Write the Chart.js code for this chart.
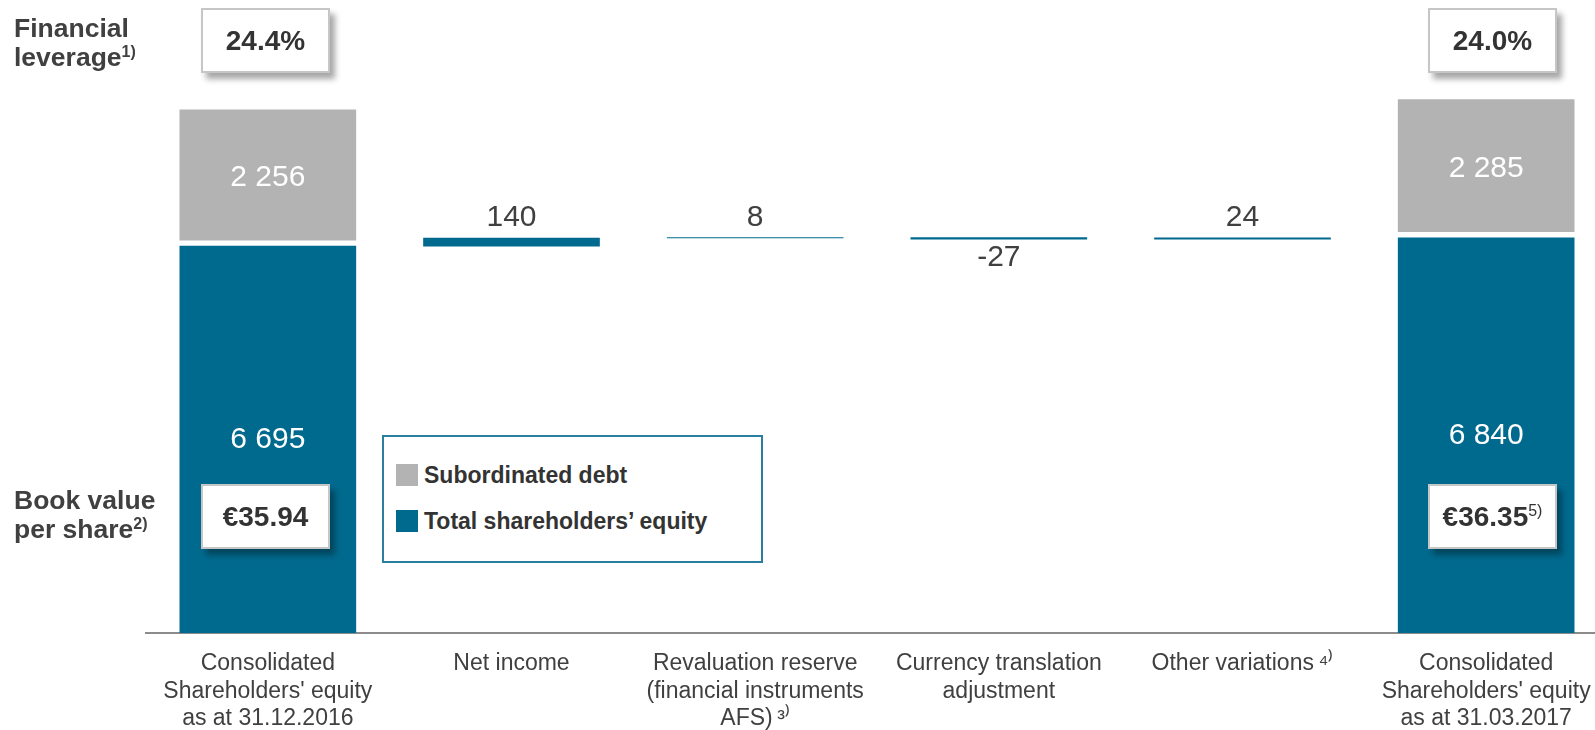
<!DOCTYPE html>
<html>
<head>
<meta charset="utf-8">
<script src="https://cdn.jsdelivr.net/npm/chart.js@4.4.1/dist/chart.umd.min.js"></script>
<style>
  body { margin: 0; width: 1595px; height: 730px; overflow: hidden; background: #fff;
         font-family: "Liberation Sans", Arial, sans-serif; color: #404040; }
  #wrap { position: absolute; left: 0; top: 0; width: 1612px; height: 730px; }
  .side { position: absolute; left: 14px; font-weight: bold; font-size: 26.5px; line-height: 29px; }
  .side sup { font-size: 16px; vertical-align: 9px; line-height: 0; }
  .box { position: absolute; box-sizing: border-box; width: 129px; height: 65px; background: #fff;
         border: 2px solid #c6c6c6; box-shadow: 5px 6px 6px rgba(0,0,0,0.35);
         font-weight: bold; font-size: 28px; line-height: 61px; text-align: center; color: #333; }
  .box sup { font-size: 16px; font-weight: normal; vertical-align: 10px; line-height: 0; }
  #legend { position: absolute; left: 382px; top: 435px; width: 381px; height: 128px; box-sizing: border-box;
            border: 2px solid #2a7f9e; background: #fff; }
  .item { position: absolute; left: 12px; font-weight: bold; font-size: 23px; line-height: 26px; color: #333; }
  .item span { display: inline-block; width: 22px; height: 22px; vertical-align: -3px; margin-right: 6px; }
</style>
</head>
<body>
<div id="wrap"><canvas id="chart"></canvas></div>

<div class="side" style="top:14px">Financial<br>leverage<sup>1)</sup></div>
<div class="side" style="top:486px">Book value<br>per share<sup>2)</sup></div>

<div class="box" id="lev0" style="left:201px; top:8px"></div>
<div class="box" id="lev1" style="left:1428px; top:8px"></div>
<div class="box" id="bv0" style="left:201px; top:484px"></div>
<div class="box" id="bv1" style="left:1428px; top:484px"></div>

<div id="legend">
  <div class="item" style="top:25px"><span style="background:#b3b3b3"></span>Subordinated debt</div>
  <div class="item" style="top:71px"><span style="background:#006a8e"></span>Total shareholders’ equity</div>
</div>

<script>
const categories = [
  ['Consolidated', "Shareholders' equity", 'as at 31.12.2016'],
  ['Net income'],
  ['Revaluation reserve', '(financial instruments', 'AFS)\u2009³⁾'],
  ['Currency translation', 'adjustment'],
  ['Other variations\u2009⁴⁾'],
  ['Consolidated', "Shareholders' equity", 'as at 31.03.2017']
];
const equityOpen = 6695;
const equityClose = 6840;
const changes = [140, 8, -27, 24];
const subDebt = [2256, 2285];
const leverage = ['24.4%', '24.0%'];
const bookValue = ['€35.94', '€36.35'];
const bookValueNote = ['', '5)'];

const BLUE = '#006a8e';
const GREY = '#b3b3b3';
const DEBT_GAP = 6; // white gap (px) between equity and debt blocks

document.getElementById('lev0').textContent = leverage[0];
document.getElementById('lev1').textContent = leverage[1];
document.getElementById('bv0').textContent = bookValue[0];
document.getElementById('bv1').innerHTML = bookValue[1] + '<sup>' + bookValueNote[1] + '</sup>';

// waterfall: each change floats from the running total
const steps = [];
let running = equityOpen;
changes.forEach(c => { steps.push([running, running + c]); running += c; });

const equityData = [equityOpen, null, null, null, null, equityClose];
const debtData = [[equityOpen, equityOpen + subDebt[0]], null, null, null, null,
                  [equityClose, equityClose + subDebt[1]]];
const stepData = [null, ...steps, null];

function fmt(v) {
  return String(v).replace(/\B(?=(\d{3})+(?!\d))/g, ' ');
}

// lift the debt blocks a few pixels so a white gap shows under them
const liftDebt = {
  id: 'liftDebt',
  beforeDatasetDraw(chart, args) {
    if (chart.data.datasets[args.index].kind !== 'debt') return;
    chart.ctx.save();
    chart.ctx.translate(0, -DEBT_GAP);
  },
  afterDatasetDraw(chart, args) {
    if (chart.data.datasets[args.index].kind !== 'debt') return;
    chart.ctx.restore();
  }
};

const valueLabels = {
  id: 'valueLabels',
  afterDatasetsDraw(chart) {
    const ctx = chart.ctx;
    ctx.save();
    ctx.textAlign = 'center';
    ctx.font = '30px "Liberation Sans", Arial, sans-serif';
    chart.data.datasets.forEach((ds, i) => {
      const meta = chart.getDatasetMeta(i);
      meta.data.forEach((bar, j) => {
        const raw = ds.data[j];
        if (raw === null) return;
        if (ds.kind === 'step') {
          const d = raw[1] - raw[0];
          const top = Math.min(bar.y, bar.base);
          const bottom = Math.max(bar.y, bar.base);
          ctx.fillStyle = '#404040';
          if (d >= 0) {
            ctx.textBaseline = 'alphabetic';
            ctx.fillText(fmt(d), bar.x, top - 12);
          } else {
            ctx.textBaseline = 'top';
            ctx.fillText(fmt(d), bar.x, bottom + 4);
          }
        } else {
          const v = Array.isArray(raw) ? raw[1] - raw[0] : raw;
          const shift = ds.kind === 'debt' ? DEBT_GAP / 2 : 0;
          ctx.fillStyle = '#ffffff';
          ctx.textBaseline = 'middle';
          ctx.fillText(fmt(v), bar.x, (bar.y + bar.base) / 2 - shift);
        }
      });
    });
    ctx.restore();
  }
};

new Chart(document.getElementById('chart'), {
  type: 'bar',
  data: {
    labels: categories,
    datasets: [
      { kind: 'equity', data: equityData, backgroundColor: BLUE },
      { kind: 'debt', data: debtData, backgroundColor: GREY },
      { kind: 'step', data: stepData, backgroundColor: BLUE }
    ]
  },
  options: {
    responsive: true,
    maintainAspectRatio: false,
    animation: false,
    layout: { padding: { left: 146, right: 4, top: 84, bottom: 0 } },
    datasets: { bar: { grouped: false, barThickness: 176 } },
    plugins: { legend: { display: false }, tooltip: { enabled: false } },
    scales: {
      x: {
        grid: { display: false, drawTicks: false },
        border: { display: true, color: '#8c8c8c', width: 2 },
        ticks: {
          autoSkip: false, maxRotation: 0, padding: 17, color: '#404040',
          font: { family: '"Liberation Sans", Arial, sans-serif', size: 23, lineHeight: 1.2 }
        },
        afterFit(scale) { scale.height = 97; }
      },
      y: { display: false, min: 0, max: 9500 }
    }
  },
  plugins: [liftDebt, valueLabels]
});
</script>
</body>
</html>
